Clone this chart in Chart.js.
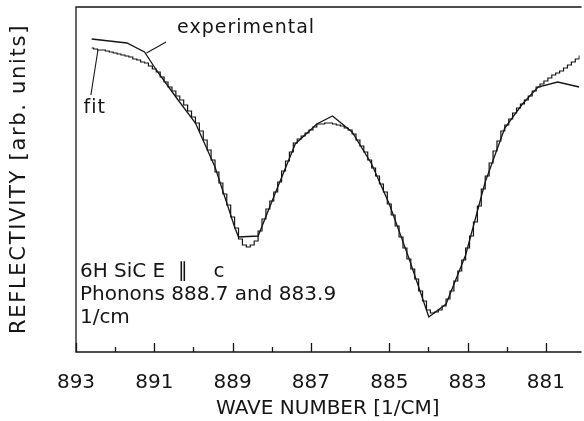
<!DOCTYPE html>
<html>
<head>
<meta charset="utf-8">
<title>6H SiC reflectivity</title>
<script src="https://cdn.jsdelivr.net/npm/chart.js@4.4.1/dist/chart.umd.min.js"></script>
<style>
    html, body { margin: 0; padding: 0; background: #fff; overflow: hidden; }
    #wrap { width: 584px; height: 421px; position: relative; }
</style>
</head>
<body>
<div id="wrap"><canvas id="reflChart"></canvas></div>
<script>
// wave numbers (1/cm) of the fit curve
const fitWave = [
    892.6, 892.5, 892.4, 892.3, 892.2, 892.1, 892.0, 891.9, 891.8, 891.7,
    891.6, 891.5, 891.4, 891.3, 891.2, 891.1, 891.0, 890.9, 890.8, 890.7,
    890.6, 890.5, 890.4, 890.3, 890.2, 890.1, 890.0, 889.9, 889.8, 889.7,
    889.6, 889.5, 889.4, 889.3, 889.2, 889.1, 889.0, 888.9, 888.8, 888.7,
    888.6, 888.5, 888.4, 888.3, 888.2, 888.1, 888.0, 887.9, 887.8, 887.7,
    887.6, 887.5, 887.4, 887.3, 887.2, 887.1, 887.0, 886.9, 886.8, 886.7,
    886.6, 886.5, 886.4, 886.3, 886.2, 886.1, 886.0, 885.9, 885.8, 885.7,
    885.6, 885.5, 885.4, 885.3, 885.2, 885.1, 885.0, 884.9, 884.8, 884.7,
    884.6, 884.5, 884.4, 884.3, 884.2, 884.1, 884.0, 883.9, 883.8, 883.7,
    883.6, 883.5, 883.4, 883.3, 883.2, 883.1, 883.0, 882.9, 882.8, 882.7,
    882.6, 882.5, 882.4, 882.3, 882.2, 882.1, 882.0, 881.9, 881.8, 881.7,
    881.6, 881.5, 881.4, 881.3, 881.2, 881.1, 881.0, 880.9, 880.8, 880.7,
    880.6, 880.5, 880.4, 880.3, 880.2, 880.1
];
// reflectivity of the fit (arb. units)
const fitValues = [
    304, 303, 302, 302, 301, 300, 299, 298, 297, 296,
    295, 293, 292, 290, 289, 286, 283, 280, 275, 270,
    265, 261, 256, 252, 247, 241, 235, 229, 221, 212,
    202, 192, 180, 169, 158, 147, 135, 124, 113, 107,
    105, 107, 111, 121, 133, 143, 151, 160, 170, 181,
    191, 200, 209, 213, 216, 219, 222, 225, 228, 228,
    229, 229, 228, 227, 226, 224, 222, 218, 212, 206,
    200, 192, 184, 176, 168, 160, 148, 137, 126, 115,
    104, 93, 83, 73, 61, 51, 42, 39, 40, 42,
    46, 53, 61, 71, 81, 92, 104, 116, 130, 146,
    163, 176, 189, 201, 211, 221, 227, 233, 239, 244,
    248, 252, 256, 261, 265, 268, 271, 274, 277, 279,
    281, 284, 287, 290, 293, 296
];

// experimental points (joined by straight lines)
const expWave = [892.6, 891.7, 891.25, 890.95, 890.45, 889.95, 889.45, 888.95, 888.85, 888.35,
    887.9, 887.4, 886.85, 886.45, 885.95, 885.45, 885.0, 884.5, 883.99, 883.55,
    883.05, 882.55, 882.05, 881.6, 881.2, 880.7, 880.15];
const expValues = [313, 309, 300, 282, 255, 229, 185, 125, 115, 116,
    160, 208, 228, 236, 220, 188, 148, 94, 35, 48,
    97, 170, 224, 248, 265, 270, 265];

// axis ticks
const xTickLabels = [893, 891, 889, 887, 885, 883, 881];
const xMinorTicks = [892, 890, 888, 886, 884, 882];

const ink = '#151515';
const textFont = '"DejaVu Sans", sans-serif';

function toPoints(xs, ys) {
    return xs.map(function (x, i) { return { x: x, y: ys[i] }; });
}

// frame, inward ticks and the text labels
const decorPlugin = {
    id: 'decor',
    afterDraw: function (chart) {
        const ctx = chart.ctx;
        const area = chart.chartArea;
        const xs = chart.scales.x;
        const ys = chart.scales.y;
        ctx.save();
        ctx.strokeStyle = ink;
        ctx.lineWidth = 1.3;

        // box: top, left, bottom
        ctx.beginPath();
        ctx.moveTo(area.right + 2, area.top + 1);
        ctx.lineTo(area.left, area.top + 1);
        ctx.lineTo(area.left, area.bottom);
        ctx.lineTo(area.right + 2, area.bottom);
        ctx.stroke();

        // ticks pointing up into the plot
        ctx.beginPath();
        xTickLabels.forEach(function (v) {
            const px = Math.round(xs.getPixelForValue(v)) + 0.5;
            ctx.moveTo(px, area.bottom);
            ctx.lineTo(px, area.bottom - 9);
        });
        xMinorTicks.forEach(function (v) {
            const px = Math.round(xs.getPixelForValue(v)) + 0.5;
            ctx.moveTo(px, area.bottom);
            ctx.lineTo(px, area.bottom - 5);
        });
        ctx.stroke();

        // leader lines for the curve labels
        ctx.lineWidth = 1.1;
        ctx.beginPath();
        ctx.moveTo(xs.getPixelForValue(891.2), ys.getPixelForValue(299));
        ctx.lineTo(xs.getPixelForValue(890.7), ys.getPixelForValue(310));
        ctx.moveTo(xs.getPixelForValue(892.44), ys.getPixelForValue(302));
        ctx.lineTo(xs.getPixelForValue(892.62), ys.getPixelForValue(257));
        ctx.stroke();

        ctx.fillStyle = ink;
        ctx.textBaseline = 'middle';
        ctx.textAlign = 'left';
        ctx.font = '19px ' + textFont;
        ctx.letterSpacing = '1px';
        ctx.fillText('experimental', xs.getPixelForValue(890.42), ys.getPixelForValue(324));
        ctx.textAlign = 'center';
        ctx.fillText('fit', xs.getPixelForValue(892.52), ys.getPixelForValue(244));

        ctx.letterSpacing = '0px';
        ctx.textAlign = 'left';
        ctx.font = '20px ' + textFont;
        ctx.fillText('6H SiC E  \u2225    c', xs.getPixelForValue(892.9), ys.getPixelForValue(80));
        ctx.fillText('Phonons 888.7 and 883.9', xs.getPixelForValue(892.9), ys.getPixelForValue(57));
        ctx.fillText('1/cm', xs.getPixelForValue(892.9), ys.getPixelForValue(34));

        // y axis title, spaced out like the plotter lettering
        ctx.translate(20, (area.top + area.bottom) / 2);
        ctx.rotate(-Math.PI / 2);
        ctx.textAlign = 'center';
        ctx.font = '21px ' + textFont;
        ctx.letterSpacing = '1.7px';
        ctx.fillText('REFLECTIVITY [arb. units]', 0, 0);
        ctx.restore();
    }
};

document.addEventListener('DOMContentLoaded', function () {
    const ctx = document.getElementById('reflChart');

    new Chart(ctx, {
        type: 'line',
        data: {
            datasets: [{
                label: 'experimental',
                data: toPoints(expWave, expValues),
                borderColor: ink,
                borderWidth: 1.3,
                pointRadius: 0,
                tension: 0,
                fill: false
            }, {
                label: 'fit',
                data: toPoints(fitWave, fitValues),
                borderColor: ink,
                borderWidth: 1.2,
                pointRadius: 0,
                stepped: 'middle',
                fill: false
            }]
        },
        options: {
            responsive: true,
            maintainAspectRatio: false,
            devicePixelRatio: 1,
            animation: false,
            layout: { padding: { left: 0, right: 0, top: 6, bottom: 0 } },
            plugins: {
                legend: { display: false },
                tooltip: { enabled: false }
            },
            scales: {
                x: {
                    type: 'linear',
                    reverse: true,
                    min: 880.14,
                    max: 893,
                    afterBuildTicks: function (scale) {
                        scale.ticks = xTickLabels.map(function (v) { return { value: v }; });
                    },
                    afterFit: function (scale) { scale.height = 69; },
                    grid: { display: false, drawTicks: false },
                    border: { display: false },
                    ticks: {
                        color: ink,
                        padding: 19,
                        maxRotation: 0,
                        autoSkip: false,
                        font: { family: textFont, size: 20 },
                        callback: function (v) { return String(v); }
                    },
                    title: {
                        display: true,
                        text: 'WAVE NUMBER [1/CM]',
                        color: ink,
                        font: { family: textFont, size: 20 },
                        padding: { top: 0, bottom: 0 }
                    }
                },
                y: {
                    min: 0,
                    max: 346,
                    afterFit: function (scale) { scale.width = 76; },
                    grid: { display: false, drawTicks: false },
                    border: { display: false },
                    ticks: { display: false },
                    title: { display: false }
                }
            }
        },
        plugins: [decorPlugin]
    });
});
</script>
</body>
</html>
